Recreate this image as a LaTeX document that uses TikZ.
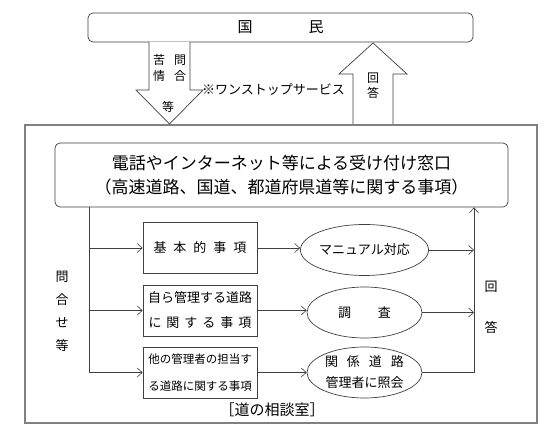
\documentclass[tikz,border=0pt]{standalone}
\usepackage{fontspec}
\setmainfont{Noto Sans CJK JP}
\usetikzlibrary{positioning,arrows.meta,shapes.geometric}
\newcommand{\fsz}[2]{\fontsize{#1}{#2}\selectfont}
\tikzset{
  frame/.style={draw=black!75, line width=0.7pt},
  kokubox/.style={frame, rounded corners=5pt, minimum width=385pt, minimum height=29pt, font=\fsz{15}{18}},
  madobox/.style={frame, rounded corners=5pt, minimum width=453pt, minimum height=64pt, align=center, font=\fsz{17}{24}},
  itembox/.style={frame, minimum width=114pt, minimum height=51pt, align=center, inner sep=1pt},
  taiou/.style={frame, ellipse, minimum width=115pt, minimum height=51pt, align=center, inner sep=0pt, font=\fsz{13}{21}},
  heyabox/.style={draw=black!50, line width=2.6pt, minimum width=512pt, minimum height=298pt},
  heyainner/.style={draw=white, line width=0.9pt},
  blockarrow/.style={draw=black!75, line width=0.7pt, fill=white},
  flowline/.style={draw=black!75, line width=0.6pt},
  flowarrow/.style={flowline, -{Straight Barb[length=5pt,width=9pt]}},
  relabel/.style={inner sep=0pt, align=center}
}

\begin{document}
\begin{tikzpicture}[x=1pt, y=-1pt]
  \path[use as bounding box, fill=white] (0,0) rectangle (552,438);

  % outer room and top box
  \node[heyabox] (heya) at (281,274) {};
  \draw[heyainner] (heya.north west) rectangle (heya.south east);
  \node[kokubox] (kokumin) at (280.5,27.5) {国\hspace{56pt}民};

  % block arrows between them
  \draw[blockarrow] (149,42) -- (149,90) -- (136,90) -- (169.5,124) -- (203,90) -- (190,90) -- (190,42);
  \draw[blockarrow] (353,124) -- (353,74) -- (339,74) -- (373,43) -- (407,74) -- (393,74) -- (393,124);
  \node[relabel, font=\fsz{12}{16}] (kujo) at (169.5,68) {苦\hspace{9pt}問\\情\hspace{9pt}合};
  \node[relabel, font=\fsz{12}{16}] (kujoto) at (168,107) {等};
  \node[relabel, font=\fsz{12}{15}] (kaito1) at (373,85.5) {回\\答};
  \node[relabel, font=\fsz{13}{16}] (onestop) at (273.5,90) {※ワンストップサービス};

  % reception window
  \node[madobox] (mado) at (281.5,175) {電話やインターネット等による受け付け窓口\\（高速道路、国道、都道府県道等に関する事項）};

  % matters
  \node[itembox, font=\fsz{13}{25}] (kihon) at (200,248) {基\hspace{7pt}本\hspace{7pt}的\hspace{7pt}事\hspace{7pt}項};
  \node[itembox, font=\fsz{13}{25}] (jiko) at (200,310.5) {自ら管理する道路\\に\hspace{5pt}関\hspace{5pt}す\hspace{5pt}る\hspace{5pt}事\hspace{5pt}項};
  \node[itembox, font=\fsz{11.5}{27}] (tasha) at (200,372.5) {他の管理者の担当す\\る道路に関する事項};

  % handling
  \node[taiou] (manual) at (364.5,250) {マニュアル対応};
  \node[taiou] (chosa) at (364.5,312.5) {調\hspace{27pt}査};
  \node[taiou] (shokai) at (364.5,372.5) {関\hspace{9pt}係\hspace{9pt}道\hspace{9pt}路\\管理者に照会};

  % connectors
  \coordinate (lsplit) at (89,207);
  \coordinate (rjoin) at (474,372.5);
  \draw[flowline] (lsplit) -- (lsplit |- tasha.west);
  \draw[flowarrow] (lsplit |- kihon.west) -- (kihon.west);
  \draw[flowarrow] (lsplit |- jiko.west) -- (jiko.west);
  \draw[flowarrow] (lsplit |- tasha.west) -- (tasha.west);
  \draw[flowarrow] (kihon.east) -- (kihon.east -| manual.west);
  \draw[flowarrow] (jiko.east) -- (jiko.east -| chosa.west);
  \draw[flowarrow] (tasha.east) -- (shokai.west);
  \draw[flowarrow] (manual.east) -- (manual.east -| rjoin);
  \draw[flowarrow] (chosa.east) -- (chosa.east -| rjoin);
  \draw[flowarrow] (shokai.east) -- (rjoin) -- (rjoin |- mado.south);

  % side labels
  \node[relabel, font=\fsz{13}{23}] (toiawase) at (62,311.5) {問\\合\\せ\\等};
  \node[relabel, font=\fsz{13}{41}] (kaito2) at (491,307.5) {回\\答};
  \node[relabel, font=\fsz{15}{18}] (soudan) at (272,410) {［道の相談室］};
\end{tikzpicture}
\end{document}
